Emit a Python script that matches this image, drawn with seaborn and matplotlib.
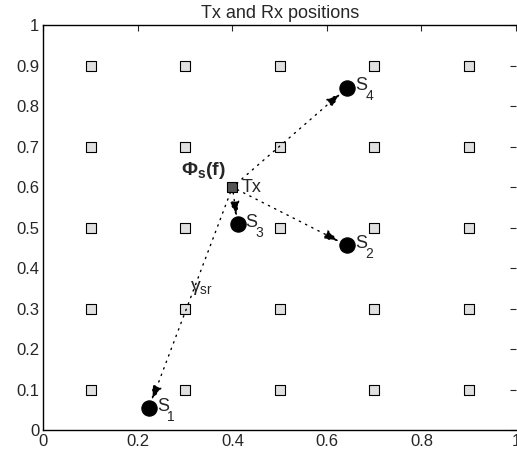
import numpy as np
import pandas as pd
import matplotlib
matplotlib.use("Agg")
import matplotlib.pyplot as plt
import seaborn as sns

grid_x = [0.1, 0.3, 0.5, 0.7, 0.9]
grid_y = [0.1, 0.3, 0.5, 0.7, 0.9]
tx_pos = (0.4, 0.6)
rx_names = ["S1", "S2", "S3", "S4"]
rx_x = [0.223, 0.643, 0.411, 0.643]
rx_y = [0.054, 0.456, 0.508, 0.846]
rx_sub = ["1", "2", "3", "4"]
xticks = [0, 0.2, 0.4, 0.6, 0.8, 1]
yticks = [0, 0.1, 0.2, 0.3, 0.4, 0.5, 0.6, 0.7, 0.8, 0.9, 1]

sns.set_style("white")
plt.rcParams['font.family'] = ['Liberation Sans', 'DejaVu Sans']
plt.rcParams['mathtext.fontset'] = 'custom'
plt.rcParams['mathtext.rm'] = 'Liberation Sans'
plt.rcParams['mathtext.it'] = 'Liberation Sans'
plt.rcParams['mathtext.bf'] = 'Liberation Sans:bold'

fig = plt.figure(figsize=(5.17, 4.58), dpi=100)
ax = fig.add_axes([0.084, 0.061, 0.914, 0.884])

gx, gy = np.meshgrid(grid_x, grid_y)
grid_df = pd.DataFrame({"x": gx.ravel(), "y": gy.ravel()})
sns.scatterplot(data=grid_df, x="x", y="y", marker="s", s=42, color="#e0e0e0",
                edgecolor="black", linewidth=0.8, ax=ax, zorder=3)

tx_df = pd.DataFrame({"x": [tx_pos[0]], "y": [tx_pos[1]]})
sns.scatterplot(data=tx_df, x="x", y="y", marker="s", s=42, color="#555555",
                edgecolor="black", linewidth=0.8, ax=ax, zorder=4)

rx_df = pd.DataFrame({"x": rx_x, "y": rx_y, "name": rx_names})
sns.scatterplot(data=rx_df, x="x", y="y", marker="o", s=120, color="black",
                edgecolor="black", ax=ax, zorder=5)

# dotted arrows from Tx to each receiver
for xr, yr in zip(rx_x, rx_y):
    dx, dy = xr - tx_pos[0], yr - tx_pos[1]
    L = np.hypot(dx, dy)
    shrink = 0.02
    end = (xr - dx / L * shrink, yr - dy / L * shrink)
    ax.annotate("", xy=end, xytext=tx_pos,
                arrowprops=dict(arrowstyle="-|>,head_length=0.9,head_width=0.3",
                                linestyle=(0, (1, 4)), color="black", lw=1.0,
                                shrinkA=4, shrinkB=0), zorder=4)

for xr, yr, sub in zip(rx_x, rx_y, rx_sub):
    ax.text(xr + 0.017, yr + 0.004, "S", fontsize=13, va="center", ha="left", zorder=6)
    ax.text(xr + 0.038, yr - 0.022, sub, fontsize=10, va="center", ha="left", zorder=6)

ax.text(tx_pos[0] + 0.02, tx_pos[1] - 0.002, "Tx", fontsize=13, va="center", ha="left")
ax.text(0.292, 0.615, r"$\mathbf{\Phi_s(f)}$", fontsize=14, va="bottom", ha="left")
ax.text(0.31, 0.35, r"$\gamma_{\mathrm{sr}}$", fontsize=14, va="center", ha="left")

ax.set_xlim(0, 1)
ax.set_ylim(0, 1)
ax.set_xticks(xticks)
ax.set_yticks(yticks)
ax.set_xticklabels(["0", "0.2", "0.4", "0.6", "0.8", "1"], fontsize=12)
ax.set_yticklabels(["0", "0.1", "0.2", "0.3", "0.4", "0.5", "0.6", "0.7", "0.8", "0.9", "1"], fontsize=12)
ax.tick_params(direction="in", length=4, top=True, right=True, width=0.8, pad=3)
ax.set_xlabel("")
ax.set_ylabel("")
ax.set_title("Tx and Rx positions", fontsize=13, pad=5)
for sp in ax.spines.values():
    sp.set_linewidth(1.0)
    sp.set_color("black")
ax.spines["right"].set_visible(False)

fig.savefig("out.png", dpi=100)
